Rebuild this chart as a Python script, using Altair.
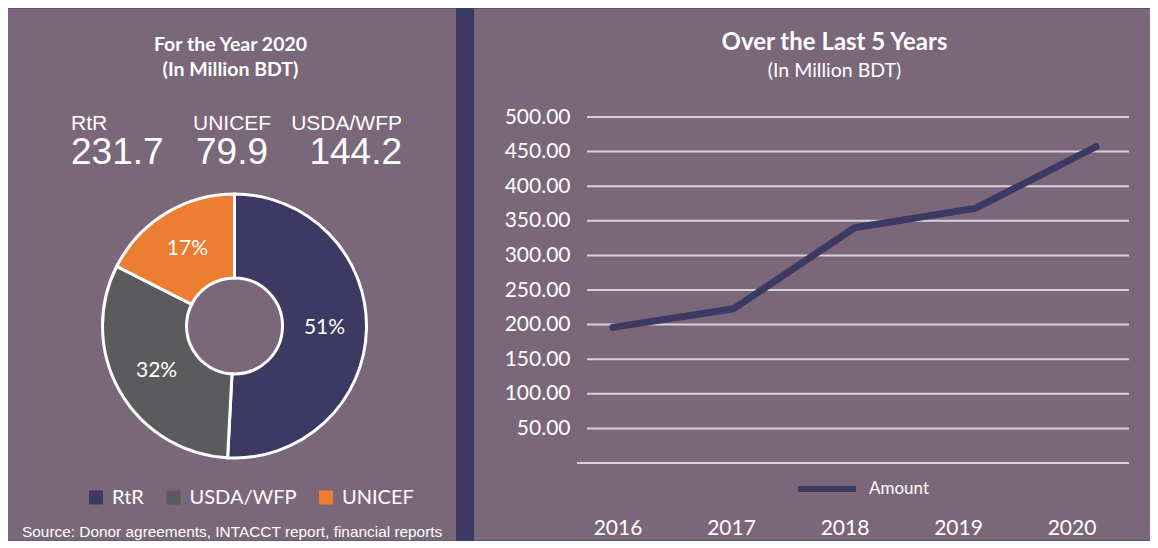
import altair as alt
import pandas as pd

# ---------------- data ----------------
donors = ["RtR", "USDA/WFP", "UNICEF"]
amounts_2020 = [231.7, 144.2, 79.9]
pct_labels = ["51%", "32%", "17%"]
donor_order = [0, 1, 2]

years = ["2016", "2017", "2018", "2019", "2020"]
yearly_amounts = [196, 223, 340, 368, 457]
series_name = ["Amount"] * 5

grid_values = [50, 100, 150, 200, 250, 300, 350, 400, 450, 500]
zero_value = [0]

# ---------------- style ----------------
NAVY = "#3c3a63"
PURPLE = "#7a677a"
GRAY = "#5b5b5d"
ORANGE = "#ed7d31"
WHITE = "#ffffff"
GRID = "#d8d2d8"
CAL = "Lato"
ARIAL = "Liberation Sans"

donor_colors = [NAVY, GRAY, ORANGE]

pie_df = pd.DataFrame({"donor": donors, "amount": amounts_2020,
                       "pct": pct_labels, "order": donor_order})
line_df = pd.DataFrame({"year": years, "amount": yearly_amounts, "series": series_name})
grid_df = pd.DataFrame({"v": grid_values})
zero_df = pd.DataFrame({"v": zero_value})
one = pd.DataFrame({"k": [0]})

TOP = 108.5          # distance from panel top to plot top (shared by both panels)
PANEL_H = 532
TOTAL_W = 1142


def text_at(txt, x, y, size, weight="normal", font=CAL, align="center"):
    return alt.Chart(one).mark_text(
        text=txt, font=font, fontSize=size, fontWeight=weight, color=WHITE,
        align=align, baseline="alphabetic"
    ).encode(x=alt.value(x), y=alt.value(y))


# ---------------- left panel ----------------
LW = 448
CX, CY = 226.5, 317.5 - TOP
pie_base = alt.Chart(pie_df)

left_bg = alt.Chart(one).mark_rect(color=PURPLE).encode(
    x=alt.value(0), x2=alt.value(LW), y=alt.value(-TOP), y2=alt.value(PANEL_H - TOP))

arc = pie_base.mark_arc(outerRadius=132, innerRadius=48, stroke=WHITE, strokeWidth=3).encode(
    theta=alt.Theta("amount:Q", stack=True),
    color=alt.Color(
        "donor:N",
        scale=alt.Scale(domain=donors, range=donor_colors),
        legend=alt.Legend(
            orient="none", legendX=78, legendY=479 - TOP, direction="horizontal", title=None,
            symbolType="square", symbolSize=196, symbolStrokeWidth=0, symbolOpacity=1,
            labelFont=CAL, labelFontSize=20, labelColor=WHITE, labelOffset=6,
            columnPadding=19.5, padding=0,
        ),
    ),
    order=alt.Order("order:Q"),
    x=alt.value(CX), y=alt.value(CY),
)

pie_text = pie_base.mark_text(font=CAL, fontSize=21, color=WHITE).encode(
    theta=alt.Theta("amount:Q", stack=True),
    radius=alt.value(90),
    text="pct:N",
    order=alt.Order("order:Q"),
    x=alt.value(CX), y=alt.value(CY),
)


def donor_label(name, x, align):
    b = pie_base.transform_filter(alt.datum.donor == name)
    return b.mark_text(font=ARIAL, fontSize=21, color=WHITE, align=align,
                       baseline="alphabetic").encode(
        text="donor:N", x=alt.value(x), y=alt.value(129 - 8 - TOP))


def donor_value(name, x, align):
    b = pie_base.transform_filter(alt.datum.donor == name)
    return b.mark_text(font=ARIAL, fontSize=37, color=WHITE, align=align,
                       baseline="alphabetic").encode(
        text=alt.Text("amount:Q", format=".1f"), x=alt.value(x), y=alt.value(163 - 8 - TOP))


left = alt.layer(
    left_bg,
    text_at("For the Year 2020", 222.5, 42 - TOP, 19.5, "bold"),
    text_at("(In Million BDT)", 222.5, 67 - TOP, 19.5, "bold"),
    donor_label("RtR", 63, "left"),
    donor_label("UNICEF", 185, "left"),
    donor_label("USDA/WFP", 394, "right"),
    donor_value("RtR", 63, "left"),
    donor_value("UNICEF", 188, "left"),
    donor_value("USDA/WFP", 394, "right"),
    arc,
    pie_text,
    text_at("Source: Donor agreements, INTACCT report, financial reports", 14, 528 - TOP, 15.4,
            font=ARIAL, align="left"),
).properties(width=LW, height=PANEL_H - TOP)

# ---------------- right panel ----------------
PW, PH = 542, 346
RIGHT_LEFT_EXT = 113
RIGHT_RIGHT_EXT = TOTAL_W - LW - 18 - RIGHT_LEFT_EXT - PW

y_scale = alt.Scale(domain=[0, 500], nice=False)
y_axis = alt.Axis(values=grid_values, format=".2f", domain=False, ticks=False, grid=False,
                  labelFont=CAL, labelFontSize=21, labelColor=WHITE, labelPadding=17,
                  title=None, zindex=1)

bg = alt.Chart(one).mark_rect(color=PURPLE).encode(
    x=alt.value(-RIGHT_LEFT_EXT), x2=alt.value(PW + RIGHT_RIGHT_EXT),
    y=alt.value(-TOP), y2=alt.value(PANEL_H - TOP))

grid = alt.Chart(grid_df).mark_rule(color=GRID, strokeWidth=2).encode(
    y=alt.Y("v:Q", scale=y_scale, axis=y_axis), x=alt.value(0), x2=alt.value(PW))

zero = alt.Chart(zero_df).mark_rule(color=GRID, strokeWidth=2).encode(
    y=alt.Y("v:Q", scale=y_scale, axis=y_axis), x=alt.value(-10), x2=alt.value(PW))

line = alt.Chart(line_df).mark_line(strokeWidth=7, strokeCap="round", strokeJoin="round").encode(
    x=alt.X("year:O", scale=alt.Scale(type="point", range=[26, 509], padding=0), axis=None),
    y=alt.Y("amount:Q", scale=y_scale, axis=y_axis),
    color=alt.Color(
        "series:N", scale=alt.Scale(domain=["Amount"], range=[NAVY]),
        legend=alt.Legend(
            orient="none", legendX=208, legendY=340, title=None,
            symbolType="stroke", symbolSize=3364, symbolStrokeWidth=6,
            labelFont=CAL, labelFontSize=17, labelColor=WHITE, labelOffset=10, padding=0,
        ),
    ),
)

year_labels = alt.Chart(line_df).mark_text(
    font=CAL, fontSize=21, color=WHITE, baseline="alphabetic"
).encode(
    x=alt.X("year:O", scale=alt.Scale(type="point", range=[31, 485], padding=0), axis=None),
    y=alt.value(534 - 8 - TOP),
    text="year:N",
)

right = alt.layer(
    bg, grid, zero, line, year_labels,
    text_at("Over the Last 5 Years", 247.5, -67, 24, "bold"),
    text_at("(In Million BDT)", 247.5, -40.5, 19.5),
).resolve_scale(x="independent").properties(width=PW, height=PH)

chart = alt.hconcat(left, right, spacing=18).resolve_scale(color="independent").configure(
    background=NAVY, padding=0
).configure_view(fill=PURPLE, strokeWidth=0)

chart.save("out.html", embed_options={"renderer": "svg", "actions": False})
